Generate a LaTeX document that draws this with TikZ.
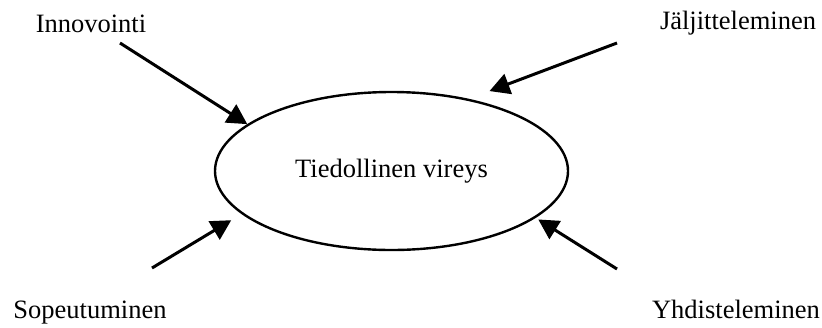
\documentclass[tikz,border=0pt]{standalone}
\usepackage{fontspec}
\setmainfont{Liberation Serif}
\usetikzlibrary{arrows.meta,shapes.geometric}

\begin{document}
\begin{tikzpicture}[x=0.5pt,y=-0.5pt,
    lbl/.style={inner sep=0pt,anchor=base,font=\fontsize{13.25}{15}\selectfont},
    pil/.style={line width=1.5pt,-{Triangle[length=10pt,width=10.5pt]}}]
        \useasboundingbox (0,0) rectangle (822,327);
        \node[draw,ellipse,line width=1.2pt,minimum width=176.5pt,minimum height=79pt,
          inner sep=0pt,font=\fontsize{13.25}{15}\selectfont] (vir) at (391.5,171) {Tiedollinen vireys};
        \node[lbl] (inn) at (91,32) {Innovointi};
        \node[lbl] (jal) at (738,29.5) {Jäljitteleminen};
        \node[lbl] (sop) at (90,318) {Sopeutuminen};
        \node[lbl] (yhd) at (736,318) {Yhdisteleminen};
        \coordinate (inn-a) at (120,43);
        \coordinate (jal-a) at (617,43);
        \coordinate (sop-a) at (152,268);
        \coordinate (yhd-a) at (617,269);
        \foreach \a/\b/\s in {inn-a/162/0pt,jal-a/43/11pt,sop-a/196/6pt,yhd-a/342/1.5pt} {
            \draw[pil,shorten >=\s] (\a) -- (vir.\b);
          }
      \end{tikzpicture}
\end{document}
